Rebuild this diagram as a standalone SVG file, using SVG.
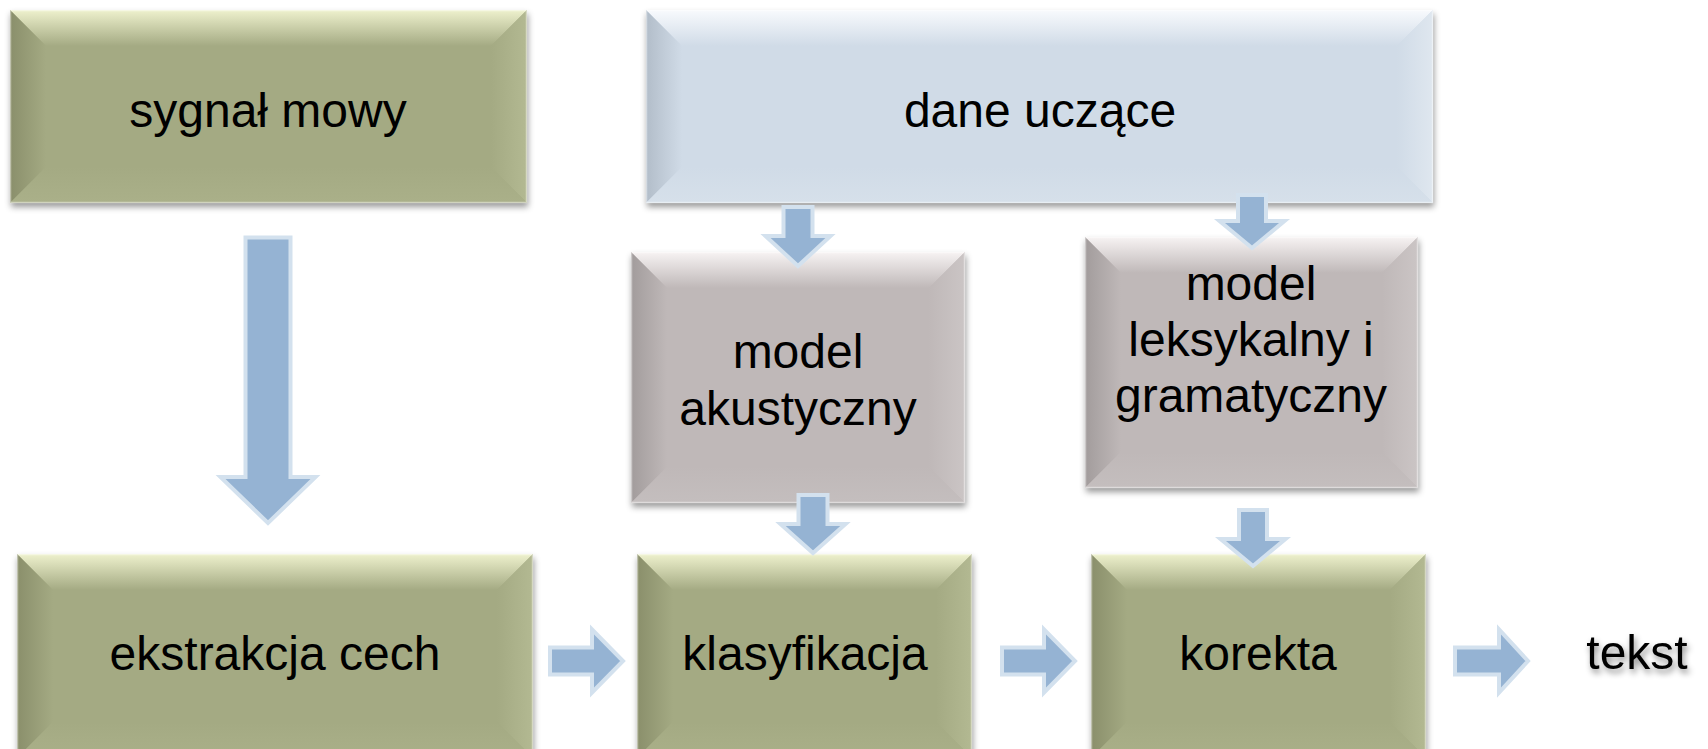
<svg xmlns="http://www.w3.org/2000/svg" width="1708" height="749" viewBox="0 0 1708 749">
<defs>
  <filter id="sh" x="-5%" y="-5%" width="112%" height="125%">
    <feDropShadow dx="1" dy="4" stdDeviation="3" flood-color="#000" flood-opacity="0.4"/>
  </filter>
  <filter id="tsh" x="-20%" y="-30%" width="140%" height="170%">
    <feDropShadow dx="2" dy="4" stdDeviation="3" flood-color="#000" flood-opacity="0.45"/>
  </filter>
  <linearGradient id="gT" x1="0" y1="0" x2="0" y2="1"><stop offset="0" stop-color="#eef1cd"/><stop offset="1" stop-color="#a4aa83"/></linearGradient>
  <linearGradient id="gL" x1="0" y1="0" x2="1" y2="0"><stop offset="0" stop-color="#8a8f6b"/><stop offset="1" stop-color="#a4aa83"/></linearGradient>
  <linearGradient id="gR" x1="1" y1="0" x2="0" y2="0"><stop offset="0" stop-color="#b3b992"/><stop offset="1" stop-color="#a4aa83"/></linearGradient>
  <linearGradient id="gB" x1="0" y1="1" x2="0" y2="0"><stop offset="0" stop-color="#aab089"/><stop offset="1" stop-color="#a4aa83"/></linearGradient>
  <linearGradient id="bT" x1="0" y1="0" x2="0" y2="1"><stop offset="0" stop-color="#f8fafd"/><stop offset="1" stop-color="#d0dbe7"/></linearGradient>
  <linearGradient id="bL" x1="0" y1="0" x2="1" y2="0"><stop offset="0" stop-color="#b2bdc9"/><stop offset="1" stop-color="#d0dbe7"/></linearGradient>
  <linearGradient id="bR" x1="1" y1="0" x2="0" y2="0"><stop offset="0" stop-color="#dfe7ef"/><stop offset="1" stop-color="#d0dbe7"/></linearGradient>
  <linearGradient id="bB" x1="0" y1="1" x2="0" y2="0"><stop offset="0" stop-color="#d6e0ea"/><stop offset="1" stop-color="#d0dbe7"/></linearGradient>
  <linearGradient id="rT" x1="0" y1="0" x2="0" y2="1"><stop offset="0" stop-color="#f7f3f3"/><stop offset="1" stop-color="#bfb8b8"/></linearGradient>
  <linearGradient id="rL" x1="0" y1="0" x2="1" y2="0"><stop offset="0" stop-color="#a29c9c"/><stop offset="1" stop-color="#bfb8b8"/></linearGradient>
  <linearGradient id="rR" x1="1" y1="0" x2="0" y2="0"><stop offset="0" stop-color="#cbc5c5"/><stop offset="1" stop-color="#bfb8b8"/></linearGradient>
  <linearGradient id="rB" x1="0" y1="1" x2="0" y2="0"><stop offset="0" stop-color="#c4bebe"/><stop offset="1" stop-color="#bfb8b8"/></linearGradient>
</defs>
<style>
  .lbl{font-family:"Liberation Sans",Arial,sans-serif;font-size:48px;fill:#000;text-anchor:middle}
  .g .base{fill:#a4aa83}
  .g .t{fill:url(#gT)} .g .l{fill:url(#gL)} .g .r{fill:url(#gR)} .g .b{fill:url(#gB)}
  .bl .base{fill:#d0dbe7}
  .bl .t{fill:url(#bT)} .bl .l{fill:url(#bL)} .bl .r{fill:url(#bR)} .bl .b{fill:url(#bB)}
  .gr .base{fill:#bfb8b8}
  .gr .t{fill:url(#rT)} .gr .l{fill:url(#rL)} .gr .r{fill:url(#rR)} .gr .b{fill:url(#rB)}
  .base{filter:url(#sh)}
  .edge{fill:none;stroke:#ffffff;stroke-opacity:0.45;stroke-width:1.5}
  .arr{fill:#95b3d3;stroke:#d3e1ee;stroke-width:4;stroke-linejoin:miter}
</style>

<!-- sygnał mowy: 10,10 - 527,203 -->
<g id="sygnal-mowy" class="g">
  <rect class="base" x="10" y="10" width="517" height="193"/>
  <path class="t" d="M10 10 H527 L491 46 H46 Z"/>
  <path class="l" d="M10 10 L46 46 V167 L10 203 Z"/>
  <path class="r" d="M527 10 V203 L491 167 V46 Z"/>
  <path class="b" d="M10 203 L46 167 H491 L527 203 Z"/>
  <rect class="edge" x="10.5" y="10.5" width="516" height="192"/>
  <text class="lbl" x="268" y="127">sygnał mowy</text>
</g>

<!-- dane uczące: 646,10 - 1433,203 -->
<g id="dane-uczace" class="bl">
  <rect class="base" x="646" y="10" width="787" height="193"/>
  <path class="t" d="M646 10 H1433 L1397 46 H682 Z"/>
  <path class="l" d="M646 10 L682 46 V167 L646 203 Z"/>
  <path class="r" d="M1433 10 V203 L1397 167 V46 Z"/>
  <path class="b" d="M646 203 L682 167 H1397 L1433 203 Z"/>
  <rect class="edge" x="646.5" y="10.5" width="786" height="192"/>
  <text class="lbl" x="1040" y="127">dane uczące</text>
</g>

<!-- model akustyczny: 631,252 - 965,503 -->
<g id="model-akustyczny" class="gr">
  <rect class="base" x="631" y="252" width="334" height="251"/>
  <path class="t" d="M631 252 H965 L929 288 H667 Z"/>
  <path class="l" d="M631 252 L667 288 V467 L631 503 Z"/>
  <path class="r" d="M965 252 V503 L929 467 V288 Z"/>
  <path class="b" d="M631 503 L667 467 H929 L965 503 Z"/>
  <rect class="edge" x="631.5" y="252.5" width="333" height="250"/>
  <text class="lbl" x="798" y="368">model</text>
  <text class="lbl" x="798" y="425">akustyczny</text>
</g>

<!-- model leksykalny: 1085,237 - 1418,488 -->
<g id="model-leksykalny" class="gr">
  <rect class="base" x="1085" y="237" width="333" height="251"/>
  <path class="t" d="M1085 237 H1418 L1382 273 H1121 Z"/>
  <path class="l" d="M1085 237 L1121 273 V452 L1085 488 Z"/>
  <path class="r" d="M1418 237 V488 L1382 452 V273 Z"/>
  <path class="b" d="M1085 488 L1121 452 H1382 L1418 488 Z"/>
  <rect class="edge" x="1085.5" y="237.5" width="332" height="250"/>
  <text class="lbl" x="1251" y="300">model</text>
  <text class="lbl" x="1251" y="356">leksykalny i</text>
  <text class="lbl" x="1251" y="412">gramatyczny</text>
</g>

<!-- ekstrakcja cech: 17,554 - 533,758 -->
<g id="ekstrakcja-cech" class="g">
  <rect class="base" x="17" y="554" width="516" height="204"/>
  <path class="t" d="M17 554 H533 L497 590 H53 Z"/>
  <path class="l" d="M17 554 L53 590 V722 L17 758 Z"/>
  <path class="r" d="M533 554 V758 L497 722 V590 Z"/>
  <path class="b" d="M17 758 L53 722 H497 L533 758 Z"/>
  <rect class="edge" x="17.5" y="554.5" width="515" height="203"/>
  <text class="lbl" x="275" y="670">ekstrakcja cech</text>
</g>

<!-- klasyfikacja: 637,554 - 972,758 -->
<g id="klasyfikacja" class="g">
  <rect class="base" x="637" y="554" width="335" height="204"/>
  <path class="t" d="M637 554 H972 L936 590 H673 Z"/>
  <path class="l" d="M637 554 L673 590 V722 L637 758 Z"/>
  <path class="r" d="M972 554 V758 L936 722 V590 Z"/>
  <path class="b" d="M637 758 L673 722 H936 L972 758 Z"/>
  <rect class="edge" x="637.5" y="554.5" width="334" height="203"/>
  <text class="lbl" x="805" y="670">klasyfikacja</text>
</g>

<!-- korekta: 1091,554 - 1426,758 -->
<g id="korekta" class="g">
  <rect class="base" x="1091" y="554" width="335" height="204"/>
  <path class="t" d="M1091 554 H1426 L1390 590 H1127 Z"/>
  <path class="l" d="M1091 554 L1127 590 V722 L1091 758 Z"/>
  <path class="r" d="M1426 554 V758 L1390 722 V590 Z"/>
  <path class="b" d="M1091 758 L1127 722 H1390 L1426 758 Z"/>
  <rect class="edge" x="1091.5" y="554.5" width="334" height="203"/>
  <text class="lbl" x="1258" y="670">korekta</text>
</g>

<g id="tekst">
  <text class="lbl" x="1637" y="669" filter="url(#tsh)">tekst</text>
</g>

<g id="connectors">
  <path class="arr" d="M245.5 237.5 H290.5 V477 H315.5 L268 523 L220.5 477 H245.5 Z"/>
  <path class="arr" d="M783.5 207 H812.5 V236 H830.5 L798 266 L765.5 236 H783.5 Z"/>
  <path class="arr" d="M1238 195 H1266 V221 H1284.5 L1252 248 L1219.5 221 H1238 Z"/>
  <path class="arr" d="M798.5 495 H827.5 V524 H845.5 L813 553 L780.5 524 H798.5 Z"/>
  <path class="arr" d="M1239 510 H1267 V539 H1285.5 L1253 566 L1220.5 539 H1239 Z"/>
  <path class="arr" d="M550 647.5 H592 V629.5 L623 661 L592 692.5 V674.5 H550 Z"/>
  <path class="arr" d="M1002 647.5 H1044 V629.5 L1075 661 L1044 692.5 V674.5 H1002 Z"/>
  <path class="arr" d="M1455 647.5 H1499 V629.5 L1528 661 L1499 692.5 V674.5 H1455 Z"/>
</g>
</svg>
